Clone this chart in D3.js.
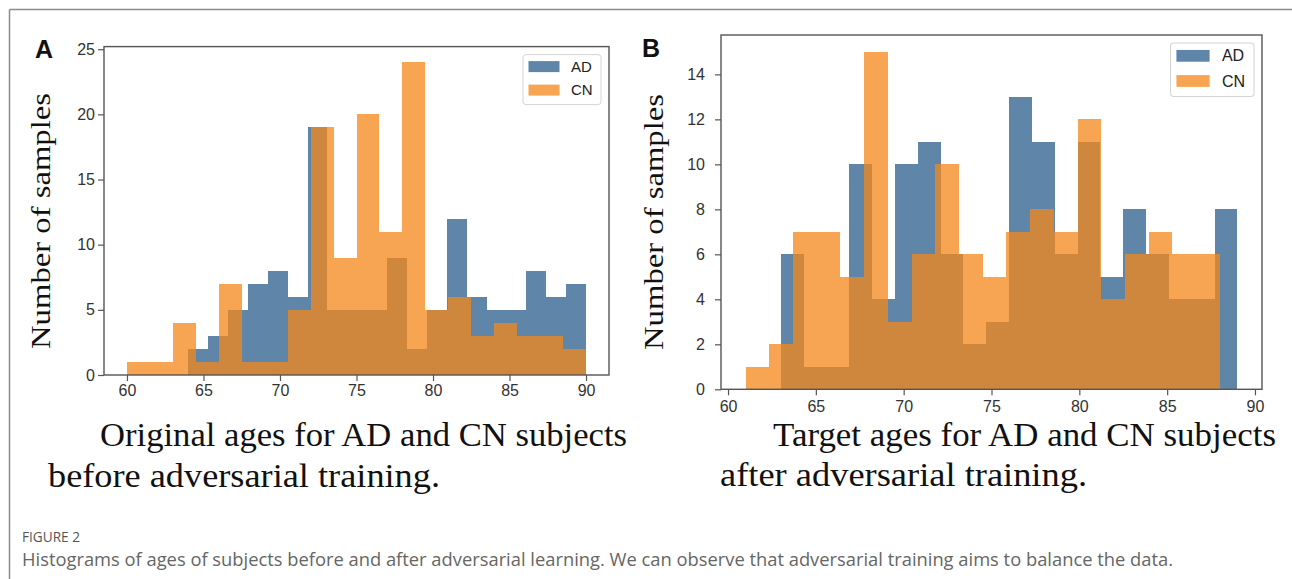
<!DOCTYPE html>
<html>
<head>
<meta charset="utf-8">
<script src="https://cdn.jsdelivr.net/npm/d3@7"></script>
<style>
body { margin: 0; background: #fff; }
.tick text { font-family: "Liberation Sans", Arial, sans-serif; font-size: 16px; fill: #333; }
.tick line { stroke: #555; stroke-width: 1.2px; }
</style>
</head>
<body>
<svg id="fig" width="1292" height="579"></svg>
<script>
// histogram bin edges (age, years) and counts
var adEdgesA = [64,65.3,66.6,67.9,69.2,70.5,71.8,73.1,74.4,75.7,77,78.3,79.6,80.9,82.2,83.5,84.8,86.1,87.4,88.7,90];
var adCountsA = [2,3,5,7,8,6,19,5,5,5,9,2,5,12,6,5,5,8,6,7];
var cnEdgesA = [60,61.5,63,64.5,66,67.5,69,70.5,72,73.5,75,76.5,78,79.5,81,82.5,84,85.5,87,88.5,90];
var cnCountsA = [1,1,4,1,7,1,1,5,19,9,20,11,24,5,6,3,4,3,3,2];

var adEdgesB = [63,64.3,65.6,66.9,68.2,69.5,70.8,72.1,73.4,74.7,76,77.3,78.6,79.9,81.2,82.5,83.8,85.1,86.4,87.7,89];
var adCountsB = [6,1,1,10,4,10,11,6,2,3,13,11,6,11,5,8,6,4,4,8];
var cnEdgesB = [61,62.35,63.7,65.05,66.4,67.75,69.1,70.45,71.8,73.15,74.5,75.85,77.2,78.55,79.9,81.25,82.6,83.95,85.3,86.65,88];
var cnCountsB = [1,2,7,7,5,15,3,6,10,6,5,7,8,7,12,4,6,7,6,6];

var xTicksA = [60,65,70,75,80,85,90];
var yTicksA = [0,5,10,15,20,25];
var xTicksB = [60,65,70,75,80,85,90];
var yTicksB = [0,2,4,6,8,10,12,14];

var series = ["AD","CN"];

var color = {
  AD: "#5f86a9",
  CN: "#f48719"   // drawn at 0.75 opacity, on top of AD
};
var cnOpacity = 0.75;

var svg = d3.select("#fig");

// page frame (top and left rule)
svg.append("line")
    .attr("x1", 9.5).attr("y1", 9.5).attr("x2", 1292).attr("y2", 9.5)
    .style("stroke", "#8c8c8c").style("stroke-width", "1.5px");
svg.append("line")
    .attr("x1", 9.5).attr("y1", 9.5).attr("x2", 9.5).attr("y2", 579)
    .style("stroke", "#8c8c8c").style("stroke-width", "1.5px");

function toBins(edges, counts) {
  return counts.map(function(c, i) { return {x0: edges[i], x1: edges[i+1], n: c}; });
}

function drawPanel(p) {
  var x = d3.scaleLinear().domain(p.xDomain).range(p.xRange),
      y = d3.scaleLinear().domain(p.yDomain).range(p.yRange);

  var g = svg.append("g");

  g.selectAll(".bar-ad")
    .data(toBins(p.adEdges, p.adCounts))
    .enter().append("rect")
      .attr("class", "bar-ad")
      .attr("x", function(d) { return x(d.x0); })
      .attr("y", function(d) { return y(d.n); })
      .attr("width", function(d) { return x(d.x1) - x(d.x0); })
      .attr("height", function(d) { return y(0) - y(d.n); })
      .attr("fill", color.AD)
      .attr("shape-rendering", "crispEdges");

  g.selectAll(".bar-cn")
    .data(toBins(p.cnEdges, p.cnCounts))
    .enter().append("rect")
      .attr("class", "bar-cn")
      .attr("x", function(d) { return x(d.x0); })
      .attr("y", function(d) { return y(d.n); })
      .attr("width", function(d) { return x(d.x1) - x(d.x0); })
      .attr("height", function(d) { return y(0) - y(d.n); })
      .attr("fill", color.CN)
      .attr("fill-opacity", cnOpacity)
      .attr("shape-rendering", "crispEdges");

  var xAxis = g.append("g")
      .attr("transform", "translate(0," + p.yRange[0] + ")")
      .call(d3.axisBottom(x).tickValues(p.xTicks).tickSize(6).tickPadding(p.xPad));
  xAxis.select(".domain").remove();

  var yAxis = g.append("g")
      .attr("transform", "translate(" + p.xRange[0] + ",0)")
      .call(d3.axisLeft(y).tickValues(p.yTicks).tickSize(6).tickPadding(p.yPad));
  yAxis.select(".domain").remove();

  // axes frame
  g.append("rect")
      .attr("x", p.xRange[0])
      .attr("y", p.yRange[1])
      .attr("width", p.xRange[1] - p.xRange[0])
      .attr("height", p.yRange[0] - p.yRange[1])
      .style("fill", "none")
      .style("stroke", "#555")
      .style("stroke-width", "1.4px");

  // legend, upper right
  var lw = 78, lh = 50;
  var lg = g.append("g")
      .attr("transform", "translate(" + (p.xRange[1] - 8 - lw * p.legendScale) + "," + (p.yRange[1] + 8) + ") scale(" + p.legendScale + ")");
  lg.append("rect")
      .attr("width", lw).attr("height", lh).attr("rx", 3)
      .style("fill", "#fff").style("fill-opacity", 0.8)
      .style("stroke", "#d4d4d4").style("stroke-width", "1px");
  series.forEach(function(s, i) {
    lg.append("rect")
        .attr("x", 5.5).attr("y", 6.5 + i * 23.5)
        .attr("width", 31).attr("height", 11)
        .attr("fill", color[s])
        .attr("fill-opacity", s == "CN" ? cnOpacity : 1);
    lg.append("text")
        .attr("x", 48).attr("y", 12 + i * 23.5)
        .attr("dy", "0.35em")
        .style("font-family", "'Liberation Sans', Arial, sans-serif")
        .style("font-size", "15px")
        .style("fill", "#222")
        .text(s);
  });

  // panel letter
  svg.append("text")
      .attr("x", p.letterX).attr("y", p.letterY)
      .style("font-family", "'Liberation Sans', Arial, sans-serif")
      .style("font-weight", "bold")
      .style("font-size", "25px")
      .style("fill", "#111")
      .text(p.letter);

  // y axis title
  svg.append("text")
      .attr("transform", "translate(" + p.ylabX + "," + p.ylabY + ") rotate(-90)")
      .attr("text-anchor", "middle")
      .attr("textLength", 256)
      .attr("lengthAdjust", "spacingAndGlyphs")
      .style("font-family", "'Liberation Serif', 'Times New Roman', serif")
      .style("font-size", "27px")
      .style("fill", "#111")
      .text("Number of samples");

  // caption under the panel
  p.caption.forEach(function(c) {
    svg.append("text")
        .attr("x", c.x).attr("y", c.y)
        .attr("textLength", c.len)
        .attr("lengthAdjust", "spacingAndGlyphs")
        .style("font-family", "'Liberation Serif', 'Times New Roman', serif")
        .style("font-size", "34px")
        .style("fill", "#111")
        .text(c.text);
  });
}

drawPanel({
  adEdges: adEdgesA, adCounts: adCountsA, cnEdges: cnEdgesA, cnCounts: cnCountsA,
  xTicks: xTicksA, yTicks: yTicksA,
  xDomain: [58.5, 91.5], xRange: [104, 609],
  yDomain: [0, 25.2], yRange: [375, 46.6],
  xPad: 4, yPad: 3, legendScale: 1,
  letter: "A", letterX: 35, letterY: 58,
  ylabX: 50, ylabY: 221,
  caption: [
    {text: "Original ages for AD and CN subjects", x: 100, y: 446, len: 527},
    {text: "before adversarial training.", x: 48, y: 487, len: 392}
  ]
});

drawPanel({
  adEdges: adEdgesB, adCounts: adCountsB, cnEdges: cnEdgesB, cnCounts: cnCountsB,
  xTicks: xTicksB, yTicks: yTicksB,
  xDomain: [59.6, 90.4], xRange: [721, 1262],
  yDomain: [0, 15.75], yRange: [389.3, 35],
  xPad: 5, yPad: 10, legendScale: 1.07,
  letter: "B", letterX: 642, letterY: 57,
  ylabX: 663, ylabY: 222,
  caption: [
    {text: "Target ages for AD and CN subjects", x: 773, y: 446, len: 503},
    {text: "after adversarial training.", x: 720, y: 486, len: 367}
  ]
});

// figure caption
svg.append("text")
    .attr("x", 22).attr("y", 542)
    .attr("textLength", 58)
    .attr("lengthAdjust", "spacingAndGlyphs")
    .style("font-family", "'Open Sans', sans-serif")
    .style("font-size", "15px")
    .style("fill", "#555")
    .text("FIGURE 2");
svg.append("text")
    .attr("x", 22).attr("y", 566)
    .attr("textLength", 1151)
    .attr("lengthAdjust", "spacingAndGlyphs")
    .style("font-family", "'Open Sans', sans-serif")
    .style("font-size", "18px")
    .style("fill", "#666")
    .text("Histograms of ages of subjects before and after adversarial learning. We can observe that adversarial training aims to balance the data.");
</script>
</body>
</html>
